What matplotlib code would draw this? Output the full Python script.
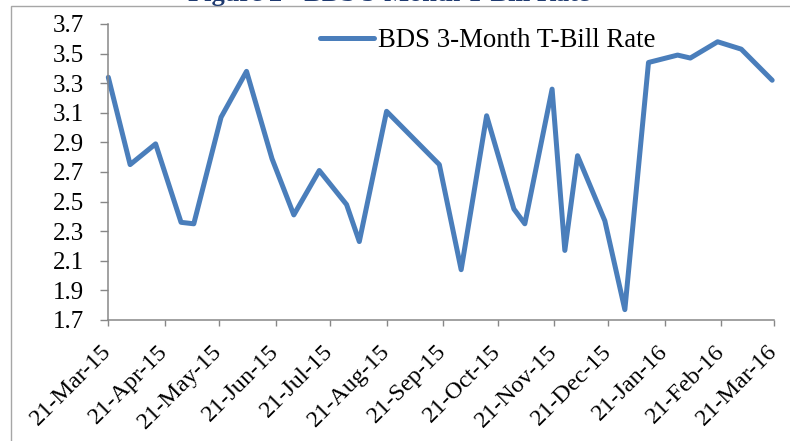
import pandas as pd
import matplotlib.pyplot as plt
import matplotlib.dates as mdates
from matplotlib.patches import Rectangle

# T-bill auction dates and rates
dates = ["2015-03-21", "2015-04-02", "2015-04-16", "2015-04-30", "2015-05-07",
         "2015-05-22", "2015-06-05", "2015-06-19", "2015-07-01", "2015-07-15",
         "2015-07-30", "2015-08-06", "2015-08-21", "2015-09-19", "2015-10-01",
         "2015-10-15", "2015-10-30", "2015-11-05", "2015-11-20", "2015-11-27",
         "2015-12-04", "2015-12-19", "2015-12-30", "2016-01-12", "2016-01-28",
         "2016-02-04", "2016-02-19", "2016-03-03", "2016-03-20"]
rates = [3.34, 2.75, 2.89, 2.36, 2.35,
         3.07, 3.38, 2.79, 2.41, 2.71,
         2.48, 2.23, 3.11, 2.75, 2.04,
         3.08, 2.45, 2.35, 3.26, 2.17,
         2.81, 2.37, 1.77, 3.44, 3.49,
         3.47, 3.58, 3.53, 3.32]
series_name = "BDS 3-Month T-Bill Rate"
title = "Figure 2 - BDS 3-Month T-Bill Rate"
x_start, x_end = "2015-03-21", "2016-03-21"
y_ticks = [1.7, 1.9, 2.1, 2.3, 2.5, 2.7, 2.9, 3.1, 3.3, 3.5, 3.7]

W, H = 790, 441
serif = ["Liberation Serif", "DejaVu Serif"]
grey = "#878787"

df = pd.DataFrame({"date": pd.to_datetime(dates), "rate": rates})

fig = plt.figure(figsize=(W / 100, H / 100), dpi=100)

# outer chart frame, only top and left edges show
fig.patches.append(Rectangle((11 / W, -0.1), 1.2, 1 - 6 / H + 0.1,
                             transform=fig.transFigure, fill=False,
                             edgecolor="#A6A6A6", linewidth=1.0))

# title, mostly cut off at the top of the picture like in the source
fig.text(389 / W, 1 - 1.0 / H, title, ha="center", va="baseline",
         fontsize=19, fontweight="bold", family=serif, color="#1F3A70")

ax = fig.add_axes([108.3 / W, 1 - 320 / H, (774 - 108.3) / W, (320 - 24) / H])
line, = ax.plot(df["date"], df["rate"], color="#4A7EBB", linewidth=3.6,
                solid_joinstyle="round", solid_capstyle="round",
                label=series_name, clip_on=False)

ax.set_xlim(pd.Timestamp(x_start), pd.Timestamp(x_end))
ax.set_ylim(y_ticks[0], y_ticks[-1])
ax.set_yticks(y_ticks)
ax.yaxis.set_major_formatter(plt.FormatStrFormatter("%.1f"))
ax.xaxis.set_major_locator(mdates.MonthLocator(bymonthday=21))
ax.xaxis.set_major_formatter(mdates.DateFormatter("%d-%b-%y"))

for s in ["top", "right"]:
    ax.spines[s].set_visible(False)
for s in ["left", "bottom"]:
    ax.spines[s].set_color(grey)
    ax.spines[s].set_linewidth(1.1)

ax.tick_params(axis="y", direction="out", length=5.8, width=1, color=grey,
               pad=11.5, labelsize=18)
ax.tick_params(axis="x", direction="out", length=4, width=1, color=grey,
               pad=16.5, labelsize=17.5)
for lab in ax.get_yticklabels():
    lab.set_family(serif)
for lab in ax.get_xticklabels():
    lab.set_family(serif)
    lab.set_rotation(45)
    lab.set_ha("right")
    lab.set_va("center")
    lab.set_rotation_mode("anchor")

fig.legend(handles=[line], loc="center left",
           bbox_to_anchor=(320 / W, 1 - 40.5 / H), frameon=False,
           borderpad=0, borderaxespad=0, handlelength=2.0, handletextpad=0.15,
           prop={"family": serif, "size": 19.3})

fig.savefig("out.png", dpi=100)
